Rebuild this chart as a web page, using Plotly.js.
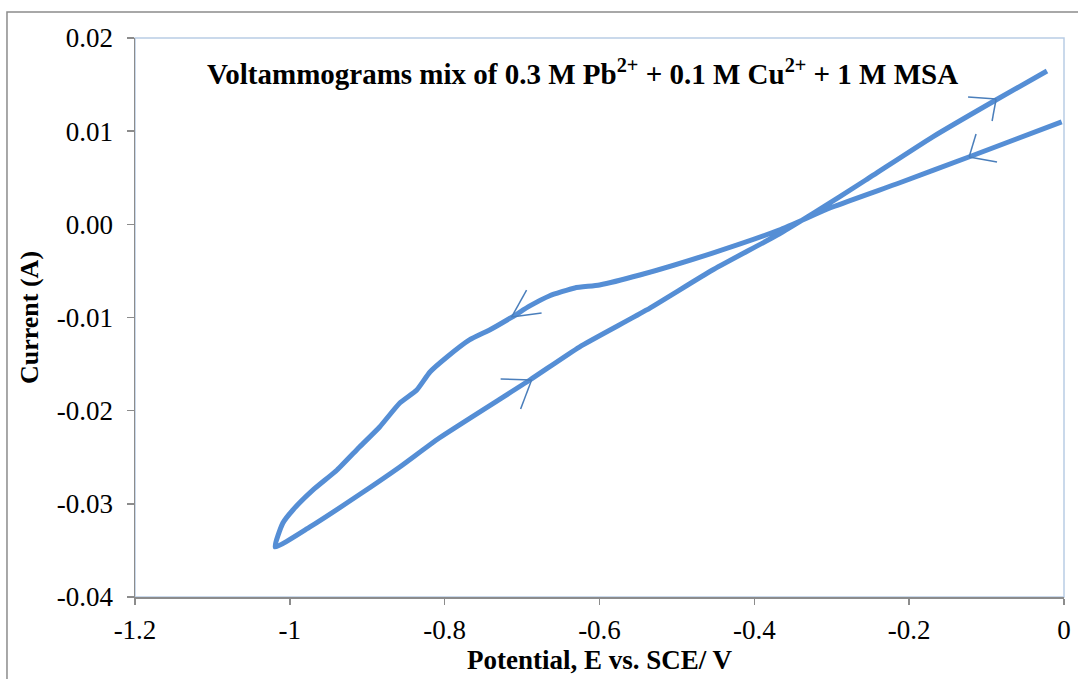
<!DOCTYPE html>
<html>
<head>
<meta charset="utf-8">
<script src="https://cdn.plot.ly/plotly-3.0.1.min.js"></script>
<style>html,body{margin:0;padding:0;background:#fff;}#chart{width:1078px;height:679px;}</style>
</head>
<body>
<div id="chart"></div>
<script>
// Cyclic voltammogram: cathodic scan (0 -> -1.02 V) then anodic return
var potential = [-0.003, -0.123, -0.213, -0.299, -0.368, -0.454, -0.548, -0.600, -0.632, -0.665, -0.690, -0.713, -0.742, -0.768, -0.797, -0.819, -0.836, -0.858, -0.884, -0.910, -0.939, -0.970, -0.996, -1.009, -1.019,
                 -0.974, -0.910, -0.858, -0.807, -0.690, -0.626, -0.539, -0.454, -0.368, -0.323, -0.256, -0.170, -0.088, -0.022];
var current = [0.0110, 0.00723, 0.00444, 0.00186, -0.00061, -0.00308, -0.00544, -0.00651, -0.00683, -0.00769, -0.00876, -0.00995, -0.01134, -0.01241, -0.01424, -0.01585, -0.01778, -0.01918, -0.02175, -0.0239, -0.02637, -0.02851, -0.03066, -0.03206, -0.03463,
               -0.03248, -0.02900, -0.02604, -0.02293, -0.01671, -0.01317, -0.00919, -0.0049, -0.00104, 0.00122, 0.00476, 0.00937, 0.01335, 0.01646];

var xTickVals = [-1.2, -1, -0.8, -0.6, -0.4, -0.2, 0];
var xTickText = ["-1.2", "-1", "-0.8", "-0.6", "-0.4", "-0.2", "0"];
var yTickVals = [0.02, 0.01, 0, -0.01, -0.02, -0.03, -0.04];
var yTickText = ["0.02", "0.01", "0.00", "-0.01", "-0.02", "-0.03", "-0.04"];

// scan-direction arrow heads: [vertex, wing1, wing2] in data units
var arrowHeads = [
  [[-0.1226, 0.00723], [-0.1136, 0.0097], [-0.0865, 0.00669]],
  [[-0.0877, 0.01345], [-0.1239, 0.01367], [-0.0929, 0.01109]],
  [[-0.7136, -0.00995], [-0.6942, -0.00705], [-0.6748, -0.00952]],
  [[-0.6877, -0.01671], [-0.7277, -0.0166], [-0.7019, -0.01982]]
];

var FONT = "Liberation Serif, Times New Roman, serif";
var shapes = [
  {type: 'rect', xref: 'paper', yref: 'paper', x0: 0, x1: 1, y0: 0, y1: 1,
   line: {color: '#B9CDE5', width: 1.5}, layer: 'below'},
  {type: 'rect', xref: 'paper', yref: 'paper', x0: -0.1378, x1: 1.05, y0: -0.3, y1: 1.0465,
   line: {color: '#8C8C8C', width: 1.5}, layer: 'below'}
];
arrowHeads.forEach(function (a) {
  for (var k = 1; k < 3; k++) {
    shapes.push({type: 'line', xref: 'x', yref: 'y', x0: a[0][0], y0: a[0][1], x1: a[k][0], y1: a[k][1],
                 line: {color: '#4A7EBB', width: 1.5}});
  }
});

var trace = {
  x: potential, y: current, type: 'scatter', mode: 'lines',
  line: {color: '#558ED5', width: 5, shape: 'spline', smoothing: 0.5},
  hoverinfo: 'x+y'
};

var layout = {
  width: 1078, height: 679,
  margin: {l: 135, r: 14, t: 38, b: 82},
  paper_bgcolor: '#FFFFFF', plot_bgcolor: '#FFFFFF',
  showlegend: false,
  font: {family: FONT, color: '#000000', size: 27},
  xaxis: {
    range: [-1.2, 0], tickvals: xTickVals, ticktext: xTickText,
    showgrid: false, zeroline: false, showline: true, linecolor: '#8C8C8C', linewidth: 1.5,
    ticks: 'outside', ticklen: 6, tickcolor: '#8C8C8C', tickwidth: 1.5, ticklabelstandoff: 2,
    tickfont: {family: FONT, size: 27, color: '#000'},
    title: {text: '<b>Potential, E vs. SCE/ V</b>', font: {family: FONT, size: 27, color: '#000'}, standoff: 4}
  },
  yaxis: {
    range: [-0.04, 0.02], tickvals: yTickVals, ticktext: yTickText,
    showgrid: false, zeroline: false, showline: true, linecolor: '#8C8C8C', linewidth: 1.5,
    ticks: 'outside', ticklen: 7, tickcolor: '#8C8C8C', tickwidth: 1.5, ticklabelstandoff: 8,
    tickfont: {family: FONT, size: 27, color: '#000'},
    title: {text: '<b>Current (A)</b>', font: {family: FONT, size: 26, color: '#000'}, standoff: 10}
  },
  shapes: shapes,
  annotations: [{
    xref: 'paper', yref: 'paper', x: 0.482, y: 0.939, xanchor: 'center', yanchor: 'middle',
    showarrow: false,
    text: '<b>Voltammograms mix of 0.3 M Pb<sup>2+</sup> + 0.1 M Cu<sup>2+</sup> + 1 M MSA</b>',
    font: {family: FONT, size: 29, color: '#000'}
  }]
};

Plotly.newPlot('chart', [trace], layout, {displayModeBar: false, staticPlot: true});
</script>
</body>
</html>
